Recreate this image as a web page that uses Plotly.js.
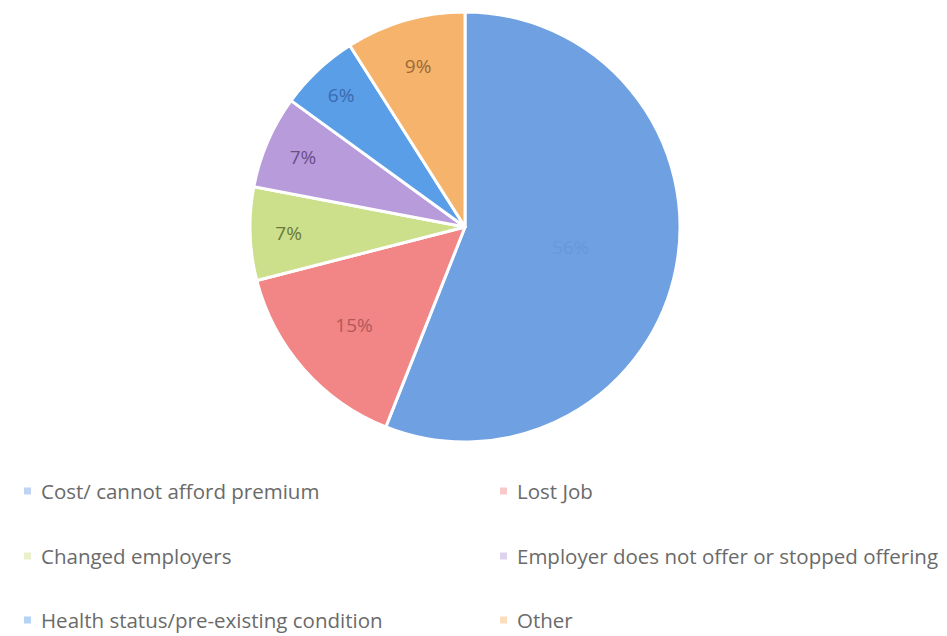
<!DOCTYPE html>
<html>
<head>
<meta charset="utf-8">
<script src="https://cdn.plot.ly/plotly-3.0.1.min.js"></script>
<style>html,body{margin:0;padding:0;background:#fff;}#chart{width:947px;height:636px;}</style>
</head>
<body>
<div id="chart"></div>
<script>
const labels = ["Cost/ cannot afford premium", "Lost Job", "Changed employers", "Employer does not offer or stopped offering", "Health status/pre-existing condition", "Other"];
const values = [56, 15, 7, 7, 6, 9];
const colors = ["#6ea0e2", "#f28585", "#cce08c", "#b89bda", "#5b9ee8", "#f6b36c"];
const textColors = ["#6a98d8", "#b05a5a", "#6b7a3a", "#6a4f8a", "#3a6ab0", "#9a6a35"];

const W = 947, H = 636;
const legendCols = [24, 500];
const legendRows = [491, 556, 620];

const annotations = [];
const shapes = [];
labels.forEach((lab, i) => {
  const col = i % 2, row = Math.floor(i / 2);
  const mx = legendCols[col], my = legendRows[row];
  shapes.push({type: 'rect', xref: 'paper', yref: 'paper',
    x0: mx / W, x1: (mx + 7) / W, y0: 1 - (my + 3.5) / H, y1: 1 - (my - 3.5) / H,
    fillcolor: colors[i], opacity: 0.45, line: {width: 0}});
  annotations.push({xref: 'paper', yref: 'paper', x: (mx + 15) / W, y: 1 - my / H,
    xanchor: 'left', yanchor: 'middle', showarrow: false, text: lab,
    font: {family: 'Open Sans, sans-serif', size: 20.5, color: '#6a6a6a'}});
});

const trace = {
  type: 'pie',
  labels: labels,
  values: values,
  sort: false,
  direction: 'clockwise',
  rotation: 0,
  marker: {colors: colors, line: {color: '#ffffff', width: 3}},
  textinfo: 'percent',
  texttemplate: '%{percent:.0%}',
  textposition: 'inside',
  insidetextorientation: 'horizontal',
  textfont: {family: 'Open Sans, sans-serif', size: 19, color: textColors},
  hoverinfo: 'label+percent',
  domain: {x: [250 / W, 680 / W], y: [1 - 442 / H, 1 - 12 / H]},
  showlegend: false
};

Plotly.newPlot('chart', [trace], {
  width: W, height: H,
  margin: {l: 0, r: 0, t: 0, b: 0},
  paper_bgcolor: '#ffffff',
  showlegend: false,
  annotations: annotations,
  shapes: shapes
}, {displayModeBar: false, staticPlot: true});
</script>
</body>
</html>
